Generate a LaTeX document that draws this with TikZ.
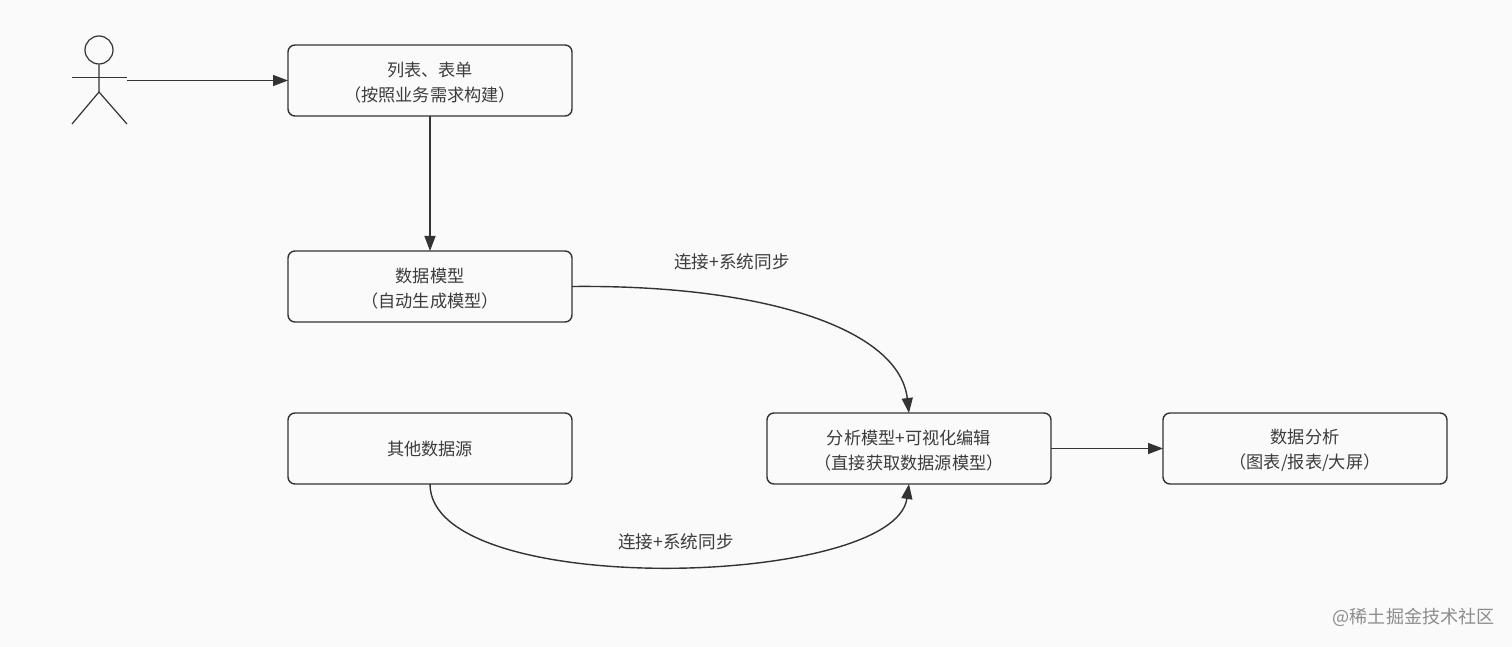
\documentclass[tikz,border=0pt]{standalone}
\usepackage{fontspec}
\setmainfont{Noto Sans CJK SC}
\usetikzlibrary{arrows.meta,positioning,calc}
\definecolor{PageBg}{HTML}{FAFAFA}
\definecolor{Ink}{HTML}{333333}
\definecolor{Label}{HTML}{3C3C3C}
\definecolor{Mark}{HTML}{8C8C8C}
\newcommand{\twolines}[2]{\raisebox{-1pt}[\height][\depth]{#1}\\\raisebox{-1pt}[\height][\depth]{#2}}
\tikzset{
  flowbox/.style={draw=Ink, line width=.7pt, rounded corners=3.5pt, minimum width=142pt, minimum height=35.5pt, align=center, inner sep=0pt, outer sep=0pt, text=Label, font=\fontsize{8.6pt}{12.5pt}\selectfont},
  flowline/.style={-{Triangle[length=7.5pt,width=5.5pt]}, line width=.7pt, color=Ink},
  actorline/.style={line width=.6pt, color=Ink},
  edgelabel/.style={text=Label, inner sep=0pt, font=\fontsize{8.8pt}{12.5pt}\selectfont}
}

\begin{document}
\begin{tikzpicture}[x=.5pt, y=-.5pt]
\fill[PageBg] (0,0) rectangle (1512,647);
\useasboundingbox (0,0) rectangle (1512,647);
% boxes
\node[flowbox] (list) at (430,80.5) {\twolines{列表、表单}{（按照业务需求构建）}};
\node[flowbox, below=67.5pt of list] (model) {\twolines{数据模型}{（自动生成模型）}};
\node[flowbox, below=45.5pt of model] (source) {其他数据源};
\node[flowbox, right=97.5pt of source] (edit) {\twolines{分析模型+可视化编辑}{（直接获取数据源模型）}};
\node[flowbox, right=56pt of edit] (result) {\twolines{数据分析}{（图表/报表/大屏）}};
% actor
\node[draw=Ink, line width=.6pt, circle, minimum size=14pt, inner sep=0pt] (head) at (99,50) {};
\coordinate (neck) at (head.south);
\coordinate (hip) at (99,92);
\coordinate (handL) at (72,77.5);
\coordinate (handR) at (127,77.5);
\coordinate (hand) at (127,80.5);
\draw[actorline] (neck) -- (hip) -- (72,124);
\draw[actorline] (hip) -- (127,124);
\draw[actorline] (handL) -- (handR);
% connectors
\draw[flowline] (hand) -- (list.west);
\foreach \x/\y in {list/model,edit/result}{\draw[flowline] (\x) -- (\y);}
\draw[flowline] (model.east) .. controls +(190,-2) and +(-10,-85) .. (edit.north);
\draw[flowline] (source.south) .. controls +(0,116) and +(-15,104) .. (edit.south);
% labels
\node[edgelabel] (syncA) at (732,262) {连接+系统同步};
\node[edgelabel] (syncB) at (676,542) {连接+系统同步};
\node[text=Mark, inner sep=0pt, anchor=east, font=\fontsize{9.05pt}{10pt}\selectfont] (mark) at (1495,617.5) {@稀土掘金技术社区};
\end{tikzpicture}
\end{document}
